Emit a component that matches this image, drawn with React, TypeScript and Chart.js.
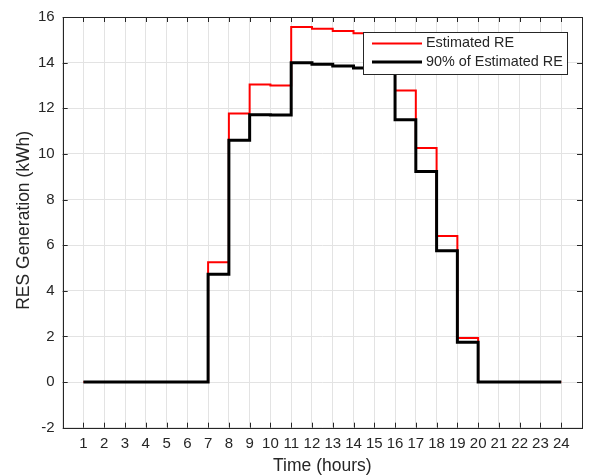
import React, { useEffect, useRef } from "react";
import { Chart, registerables } from "chart.js";

Chart.register(...registerables);

const hours = [1, 2, 3, 4, 5, 6, 7, 8, 9, 10, 11, 12, 13, 14, 15, 16, 17, 18, 19, 20, 21, 22, 23, 24];
const estimatedRE = [0, 0, 0, 0, 0, 0, 5.25, 11.77, 13.04, 13.0, 15.56, 15.48, 15.39, 15.29, 15.2, 12.78, 10.26, 6.4, 1.93, 0, 0, 0, 0, 0];
const ninetyPctRE = [0, 0, 0, 0, 0, 0, 4.72, 10.6, 11.72, 11.7, 14.0, 13.93, 13.85, 13.76, 13.68, 11.5, 9.23, 5.76, 1.74, 0, 0, 0, 0, 0];
const xTickLabels = hours;
const yTickValues = [-2, 0, 2, 4, 6, 8, 10, 12, 14, 16];
const seriesNames = ["Estimated RE", "90% of Estimated RE"];
const xTitle = "Time (hours)";
const yTitle = "RES Generation (kWh)";

const FONT = "'Liberation Sans', Arial, Helvetica, sans-serif";
const AXIS_COLOR = "#262626";

const framePlugin = {
  id: "matlabFrame",
  afterDraw(chart: any) {
    const { ctx, chartArea } = chart;
    const { left, right, top, bottom } = chartArea;
    const xs = chart.scales.x;
    const ys = chart.scales.y;
    ctx.save();
    ctx.strokeStyle = AXIS_COLOR;
    ctx.lineWidth = 1;
    const tl = 5;
    ctx.beginPath();
    xTickLabels.forEach((v) => {
      const px = Math.round(xs.getPixelForValue(v)) + 0.5;
      ctx.moveTo(px, bottom);
      ctx.lineTo(px, bottom - tl);
      ctx.moveTo(px, top);
      ctx.lineTo(px, top + tl);
    });
    yTickValues.forEach((v) => {
      const py = Math.round(ys.getPixelForValue(v)) + 0.5;
      ctx.moveTo(left, py);
      ctx.lineTo(left + tl, py);
      ctx.moveTo(right, py);
      ctx.lineTo(right - tl, py);
    });
    ctx.stroke();
    ctx.strokeRect(Math.round(left) + 0.5, Math.round(top) + 0.5, Math.round(right - left), Math.round(bottom - top));

    ctx.fillStyle = AXIS_COLOR;
    ctx.font = `17.5px ${FONT}`;
    ctx.textAlign = "center";
    ctx.textBaseline = "middle";
    ctx.fillText(xTitle, (left + right) / 2, 466);
    ctx.save();
    ctx.translate(24, (top + bottom) / 2 - 2);
    ctx.rotate(-Math.PI / 2);
    ctx.fillText(yTitle, 0, 0);
    ctx.restore();

    const lx = 363.5, ly = 32.5, lw = 204, lh = 42;
    ctx.fillStyle = "#ffffff";
    ctx.fillRect(lx, ly, lw, lh);
    ctx.strokeStyle = AXIS_COLOR;
    ctx.lineWidth = 1;
    ctx.strokeRect(lx, ly, lw, lh);
    const rows = [
      { color: "#ff0000", width: 2, y: 43.5, label: seriesNames[0] },
      { color: "#000000", width: 3, y: 62, label: seriesNames[1] },
    ];
    rows.forEach((r) => {
      ctx.beginPath();
      ctx.strokeStyle = r.color;
      ctx.lineWidth = r.width;
      ctx.moveTo(372, r.y);
      ctx.lineTo(422, r.y);
      ctx.stroke();
      ctx.fillStyle = AXIS_COLOR;
      ctx.font = `14.4px ${FONT}`;
      ctx.textAlign = "left";
      ctx.textBaseline = "middle";
      ctx.fillText(r.label, 426, r.y);
    });
    ctx.restore();
  },
};

export default function App() {
  const canvasRef = useRef<HTMLCanvasElement | null>(null);

  useEffect(() => {
    document.body.style.margin = "0";
    const canvas = canvasRef.current;
    if (!canvas) return;
    const chart = new Chart(canvas, {
      type: "line",
      data: {
        datasets: [
          {
            label: seriesNames[0],
            data: hours.map((h, i) => ({ x: h, y: estimatedRE[i] })),
            borderColor: "#ff0000",
            borderWidth: 2,
            stepped: "before",
            pointRadius: 0,
            fill: false,
            order: 2,
          },
          {
            label: seriesNames[1],
            data: hours.map((h, i) => ({ x: h, y: ninetyPctRE[i] })),
            borderColor: "#000000",
            borderWidth: 3,
            stepped: "before",
            pointRadius: 0,
            fill: false,
            order: 1,
          },
        ],
      },
      options: {
        animation: false,
        responsive: false,
        maintainAspectRatio: false,
        layout: { padding: { left: 0, top: 17, right: 6.7, bottom: 0 } },
        plugins: {
          legend: { display: false },
          tooltip: { enabled: false },
        },
        scales: {
          x: {
            type: "linear",
            min: 0,
            max: 25,
            afterFit: (s: any) => {
              s.height = 476 - 427.7;
            },
            afterBuildTicks: (s: any) => {
              s.ticks = [0, ...xTickLabels, 25].map((v) => ({ value: v }));
            },
            ticks: {
              autoSkip: false,
              maxRotation: 0,
              padding: 7,
              color: AXIS_COLOR,
              font: { family: FONT, size: 15 },
              callback: (v: any) => (xTickLabels.includes(Number(v)) ? String(v) : ""),
            },
            grid: { color: "#e3e3e3", drawTicks: false, lineWidth: 1 },
            border: { display: false },
          },
          y: {
            type: "linear",
            min: -2,
            max: 16,
            afterFit: (s: any) => {
              s.width = 62.7;
            },
            afterBuildTicks: (s: any) => {
              s.ticks = yTickValues.map((v) => ({ value: v }));
            },
            ticks: {
              padding: 8,
              color: AXIS_COLOR,
              font: { family: FONT, size: 15 },
            },
            grid: { color: "#e3e3e3", drawTicks: false, lineWidth: 1 },
            border: { display: false },
          },
        },
      },
      plugins: [framePlugin],
    });
    return () => chart.destroy();
  }, []);

  return (
    <div style={{ width: 589, height: 476 }}>
      <canvas ref={canvasRef} width={589} height={476} style={{ display: "block" }} />
    </div>
  );
}
